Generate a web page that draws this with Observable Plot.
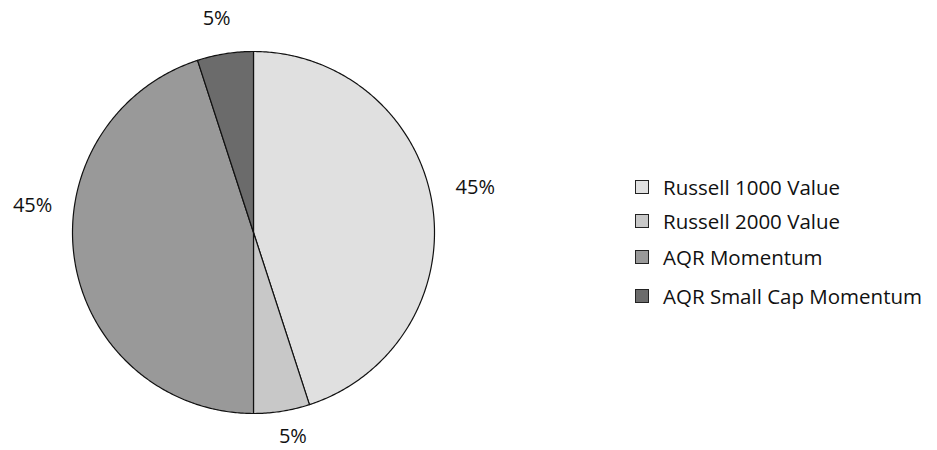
<!DOCTYPE html>
<html><head><meta charset="utf-8">
<script src="https://cdn.jsdelivr.net/npm/d3@7"></script>
<script src="https://cdn.jsdelivr.net/npm/@observablehq/plot@0.6"></script>
<style>
body{margin:0;background:#fff;font-family:"Open Sans",sans-serif;}
#wrap{position:relative;width:937px;height:450px;}
#legend{position:absolute;left:635px;top:0;}
.item{position:absolute;left:0;display:flex;align-items:center;white-space:nowrap;font-size:20.5px;color:#111;}
.sw{width:14px;height:14px;border:1px solid #222;box-sizing:border-box;margin-right:14px;}
</style></head>
<body><div id="wrap"><div id="chart"></div><div id="legend"></div></div>
<script>
const categories = ["Russell 1000 Value","Russell 2000 Value","AQR Momentum","AQR Small Cap Momentum"];
const values = [45,5,45,5];
const labels = ["45%","5%","45%","5%"];
const colors = ["#e0e0e0","#c8c8c8","#999999","#6b6b6b"];

const total = d3.sum(values);
let cum = 0;
const slices = categories.map((c,i)=>{const a0=cum/total*2*Math.PI; cum+=values[i]; const a1=cum/total*2*Math.PI; return {name:c,a0,a1,label:labels[i]};});
const pts = [];
for (const s of slices){
  pts.push({name:s.name,x:0,y:0});
  const n = Math.max(2, Math.ceil((s.a1-s.a0)/0.01));
  for(let k=0;k<=n;k++){const a=s.a0+(s.a1-s.a0)*k/n; pts.push({name:s.name,x:Math.sin(a),y:Math.cos(a)});}
}
// label placement nudges (data units, style only)
const nudge = [[0.04,0.06],[0.03,0.055],[-0.035,0.337],[-0.016,-0.004]];
const lab = slices.map((s,i)=>{const m=(s.a0+s.a1)/2; return {label:s.label,x:1.2*Math.sin(m)+nudge[i][0],y:1.2*Math.cos(m)+nudge[i][1]};});

const chart = Plot.plot({
  width:937, height:450,
  margin:0,
  x:{domain:[-1,1],range:[72,434],axis:null},
  y:{domain:[-1,1],range:[413,51],axis:null},
  color:{domain:categories,range:colors},
  style:{fontFamily:"'Open Sans',sans-serif",background:"#fff"},
  marks:[
    Plot.line(pts,{x:"x",y:"y",z:"name",fill:"name",stroke:"#111",strokeWidth:1.2,curve:"linear-closed"}),
    Plot.text(lab,{x:"x",y:"y",text:"label",fontSize:20,fill:"#111"})
  ]
});
document.getElementById("chart").append(chart);

const legendY=[188,222,258,297];
const lg=document.getElementById("legend");
categories.forEach((c,i)=>{
  const d=document.createElement("div");d.className="item";d.style.top=(legendY[i]-15)+"px";
  d.innerHTML=`<div class="sw" style="background:${colors[i]}"></div><span>${c}</span>`;
  lg.append(d);
});
</script></body></html>
